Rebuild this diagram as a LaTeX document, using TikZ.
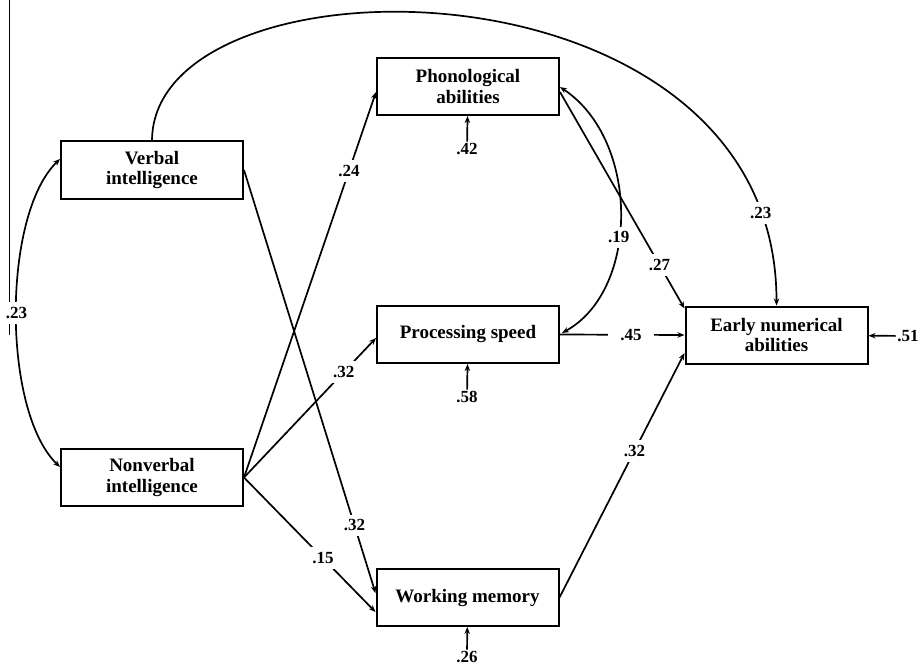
\documentclass[tikz,border=0pt]{standalone}
\usepackage{fontspec}
\setmainfont{Liberation Serif}
\usetikzlibrary{arrows.meta}

\begin{document}
\begin{tikzpicture}[x=1pt,y=-1pt,>={Stealth[length=7pt,width=5.5pt]},
    var/.style={draw,line width=2pt,minimum width=182pt,minimum height=57pt,align=center,inner sep=2pt,font=\fontsize{19}{20.5}\selectfont\bfseries},
    lbl/.style={fill=white,inner xsep=7pt,inner ysep=5pt,font=\fontsize{17}{18}\selectfont\bfseries},
    err/.style={inner sep=1.5pt,font=\fontsize{17}{18}\selectfont\bfseries},
    arr/.style={->,line width=1.7pt}]
     \useasboundingbox (0,0) rectangle (921,666);
     \draw[line width=1pt] (9,0) -- (9,335);

     \node[var] (verbal) at (152,170) {Verbal\\intelligence};
     \node[var] (nonverbal) at (152,477.5) {Nonverbal\\intelligence};
     \node[var] (phono) at (468,86.5) {Phonological\\abilities};
     \node[var] (speed) at (468,334.5) {Processing speed};
     \node[var] (memory) at (467.5,597.5) {Working memory};
     \node[var] (early) at (776.5,335) {Early numerical\\abilities};

     \node[err] (e42) at (467,149) {.42};
     \node[err] (e58) at (467,397) {.58};
     \node[err] (e26) at (467,657) {.26};
     \node[err] (e51) at (908,336) {.51};
     \draw[arr] (e42) -- (phono);
     \draw[arr] (e58) -- (speed);
     \draw[arr] (e26) -- (memory);
     \draw[arr] (e51) -- (early);

     \draw[arr,<->] ([yshift=11pt]verbal.west) .. controls (2,215) and (2,411) .. ([yshift=10.5pt]nonverbal.west) node[lbl,inner xsep=1pt,pos=0.5] {.23};
     \draw[arr,<->] ([yshift=-0.5pt]phono.east) .. controls (640,140) and (640,290) .. ([xshift=2pt,yshift=1.5pt]speed.east) node[lbl,inner xsep=3pt,pos=0.58] {.19};
     \draw[arr] (verbal.north) .. controls (153,-52) and (777,-52) .. (early.north) node[lbl,inner xsep=3pt,pos=0.905] {.23};

     \draw[arr] (verbal.east) -- ([yshift=4.5pt]memory.west) node[lbl,pos=0.84] {.32};
     \draw[arr] (nonverbal.east) -- ([yshift=-5.5pt]phono.west) node[lbl,pos=0.795] {.24};
     \draw[arr] (nonverbal.east) -- ([yshift=-3.5pt]speed.west) node[lbl,pos=0.756] {.32};
     \draw[arr] (nonverbal.east) -- ([yshift=-14.5pt]memory.west) node[lbl,pos=0.6] {.15};
     \draw[arr] ([yshift=-5.5pt]phono.east) -- ([yshift=-3pt]early.north west) node[lbl,pos=0.8] {.27};
     \draw[arr] (speed.east) -- (early.west) node[lbl,inner xsep=12pt,pos=0.57] {.45};
     \draw[arr] (memory.east) -- ([yshift=-18pt]early.west) node[lbl,pos=0.6] {.32};
    \end{tikzpicture}
\end{document}
